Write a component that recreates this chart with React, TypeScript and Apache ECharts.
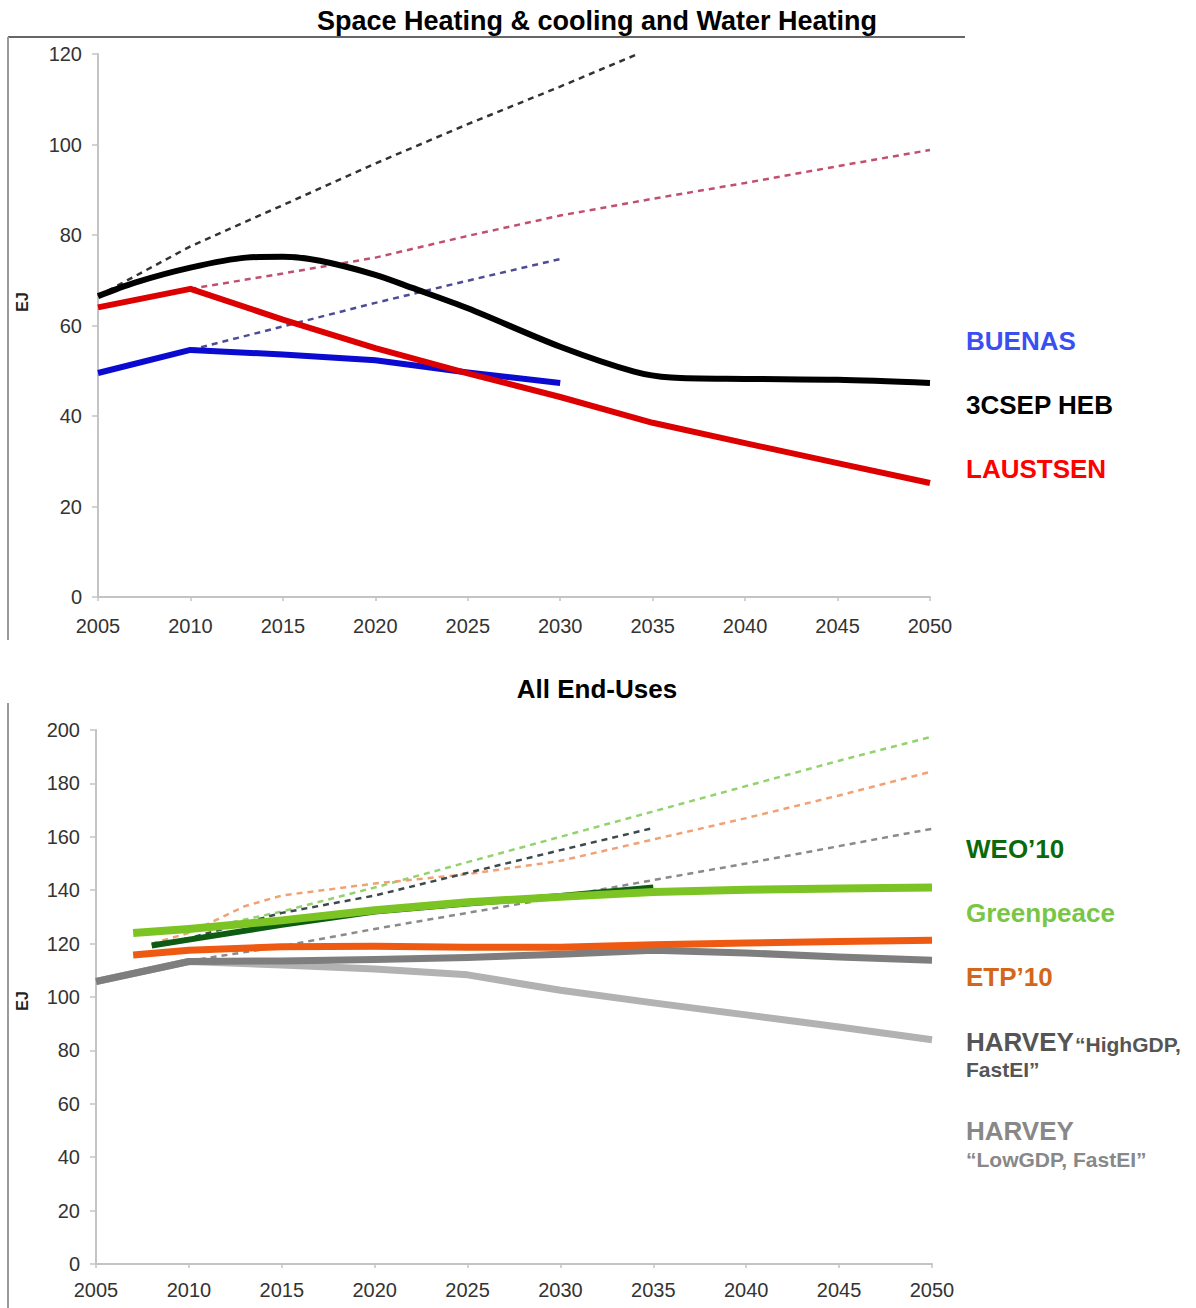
import React, { useEffect, useRef } from "react";
import * as echarts from "echarts";

type P = [number, number][];

// ---------- Top chart: Space Heating & cooling and Water Heating ----------
const topYTicks = { min: 0, max: 120, interval: 20 };
const hebSolid: P = [[2005, 66.5], [2007, 69.5], [2010, 72.8], [2013, 75], [2015, 75.2], [2017, 74.3], [2020, 71.2], [2022, 68.3], [2025, 63.8], [2030, 55.3], [2034, 49.8], [2036, 48.5], [2040, 48.2], [2045, 48], [2050, 47.3]];
const laustsenSolid: P = [[2005, 64], [2010, 68.1], [2015, 61.3], [2020, 55], [2025, 49.4], [2030, 44.2], [2035, 38.5], [2040, 34], [2045, 29.6], [2050, 25.2]];
const buenasSolid: P = [[2005, 49.5], [2010, 54.6], [2015, 53.6], [2020, 52.3], [2025, 49.6], [2030, 47.3]];
const hebDashed: P = [[2005, 66.5], [2010, 77.5], [2015, 86.6], [2020, 95.8], [2025, 104.5], [2030, 112.8], [2034.2, 120]];
const laustsenDashed: P = [[2010, 68.1], [2015, 71.5], [2020, 75], [2025, 79.8], [2030, 84.3], [2035, 88], [2040, 91.5], [2045, 95.2], [2050, 98.8]];
const buenasDashed: P = [[2010, 54.6], [2015, 59.8], [2020, 65], [2025, 69.9], [2030, 74.7]];

// ---------- Bottom chart: All End-Uses ----------
const bottomYTicks = { min: 0, max: 200, interval: 20 };
const greenpeaceSolid: P = [[2007, 124], [2010, 125.5], [2015, 128.7], [2020, 132.5], [2025, 135.5], [2030, 137.5], [2035, 139.3], [2040, 140.2], [2045, 140.6], [2050, 141]];
const weoSolid: P = [[2008, 119.3], [2010, 121.5], [2015, 127], [2020, 132], [2025, 135], [2030, 137.8], [2035, 141]];
const etpSolid: P = [[2007, 115.7], [2010, 117.5], [2015, 118.8], [2020, 119], [2025, 118.6], [2030, 118.6], [2035, 119.6], [2040, 120.2], [2045, 120.8], [2050, 121.3]];
const harveyHighSolid: P = [[2005, 105.8], [2010, 113.3], [2015, 113.5], [2020, 114], [2025, 114.8], [2030, 116], [2035, 117.5], [2040, 116.5], [2045, 115], [2050, 113.8]];
const harveyLowSolid: P = [[2005, 105.8], [2010, 113.3], [2015, 112], [2020, 110.5], [2025, 108.3], [2030, 102.5], [2035, 97.8], [2040, 93.3], [2045, 88.8], [2050, 84]];
const greenpeaceDashed: P = [[2010, 124.5], [2015, 132], [2020, 141], [2025, 150.5], [2030, 160], [2035, 169.5], [2040, 179], [2045, 188.5], [2050, 197.5]];
const etpDashed: P = [[2008, 120], [2010, 124], [2013, 134], [2015, 138], [2020, 142.5], [2025, 146], [2030, 151], [2035, 159], [2040, 167], [2045, 175.5], [2050, 184.5]];
const weoDashed: P = [[2008, 119.5], [2010, 122], [2015, 131.5], [2020, 138], [2025, 146.5], [2030, 155], [2035, 163.3]];
const harveyDashed: P = [[2010, 113.5], [2015, 119], [2020, 125.5], [2025, 131.5], [2030, 137.5], [2035, 143.8], [2040, 150], [2045, 156.5], [2050, 163]];

const FONT = "'Liberation Sans', Arial, Helvetica, sans-serif";

function solid(name: string, data: P, color: string, width: number, axis: number, smooth: number | boolean = false) {
  return {
    name, type: "line", data, xAxisIndex: axis, yAxisIndex: axis, showSymbol: false, smooth,
    lineStyle: { color, width, type: "solid", cap: "butt", join: "round" }, z: 3,
  };
}
function dashed(name: string, data: P, color: string, axis: number) {
  return {
    name, type: "line", data, xAxisIndex: axis, yAxisIndex: axis, showSymbol: false,
    lineStyle: { color, width: 2.5, type: [6, 5] }, z: 2,
  };
}

function xAxis(gridIndex: number, margin: number) {
  return {
    type: "value", gridIndex, min: 2005, max: 2050, interval: 5,
    axisLine: { show: true, lineStyle: { color: "#c4c4c4", width: 2 } },
    axisTick: { show: true, length: 4, lineStyle: { color: "#c4c4c4", width: 1.5 } },
    axisLabel: { color: "#333", fontSize: 20, fontFamily: FONT, margin, formatter: (v: number) => String(v) },
    splitLine: { show: false },
  };
}
function yAxis(gridIndex: number, t: { min: number; max: number; interval: number }) {
  return {
    type: "value", gridIndex, min: t.min, max: t.max, interval: t.interval,
    axisLine: { show: true, lineStyle: { color: "#c4c4c4", width: 2 } },
    axisTick: { show: true, length: 6, lineStyle: { color: "#c4c4c4", width: 1.5 } },
    axisLabel: { color: "#333", fontSize: 20, fontFamily: FONT, margin: 16 },
    splitLine: { show: false },
  };
}

function txt(text: string, x: number, y: number, fill: string, size: number, align = "left") {
  return {
    type: "text", x, y,
    style: { text, fill, fontSize: size, fontWeight: "bold", fontFamily: FONT, align, verticalAlign: "middle" },
  };
}

export default function App() {
  const ref = useRef<HTMLDivElement>(null);
  useEffect(() => {
    document.body.style.margin = "0";
    const chart = echarts.init(ref.current!, null, { renderer: "svg" });
    chart.setOption({
      animation: false,
      backgroundColor: "#ffffff",
      grid: [
        { left: 98, top: 54, width: 832, height: 543 },
        { left: 96, top: 730, width: 836, height: 534 },
      ],
      xAxis: [xAxis(0, 19), xAxis(1, 16)],
      yAxis: [yAxis(0, topYTicks), yAxis(1, bottomYTicks)],
      series: [
        dashed("3CSEP HEB baseline", hebDashed, "#333333", 0),
        dashed("LAUSTSEN baseline", laustsenDashed, "#c0506e", 0),
        dashed("BUENAS baseline", buenasDashed, "#4d4d96", 0),
        solid("BUENAS", buenasSolid, "#0a0ad0", 6, 0),
        solid("LAUSTSEN", laustsenSolid, "#dd0000", 6, 0),
        solid("3CSEP HEB", hebSolid, "#000000", 6, 0, 0.3),

        dashed("Greenpeace baseline", greenpeaceDashed, "#92d36e", 1),
        dashed("ETP'10 baseline", etpDashed, "#f0a274", 1),
        dashed("WEO'10 baseline", weoDashed, "#3c4a4c", 1),
        dashed("HARVEY baseline", harveyDashed, "#8a8a8a", 1),
        solid("HARVEY LowGDP", harveyLowSolid, "#b2b2b2", 7, 1),
        solid("HARVEY HighGDP", harveyHighSolid, "#7e7e7e", 7, 1),
        solid("ETP'10", etpSolid, "#ef5a12", 7, 1),
        solid("WEO'10", weoSolid, "#0d5c12", 6, 1),
        solid("Greenpeace", greenpeaceSolid, "#7cc424", 8, 1),
      ],
      graphic: [
        { type: "line", shape: { x1: 8, y1: 37, x2: 965, y2: 37 }, style: { stroke: "#666", lineWidth: 2 } },
        { type: "line", shape: { x1: 8, y1: 37, x2: 8, y2: 640 }, style: { stroke: "#9a9a9a", lineWidth: 2 } },
        { type: "line", shape: { x1: 8, y1: 703, x2: 8, y2: 1308 }, style: { stroke: "#9a9a9a", lineWidth: 2 } },

        txt("Space Heating & cooling and Water Heating", 597, 21, "#000", 27, "center"),
        txt("All End-Uses", 597, 689, "#000", 26, "center"),
        { ...txt("EJ", 22, 302, "#222", 16, "center"), rotation: Math.PI / 2 },
        { ...txt("EJ", 22, 1001, "#222", 16, "center"), rotation: Math.PI / 2 },

        txt("BUENAS", 966, 341, "#3a4ff2", 26),
        txt("3CSEP HEB", 966, 405, "#000000", 26),
        txt("LAUSTSEN", 966, 469, "#ff0000", 26),

        txt("WEO’10", 966, 849, "#0a6a0a", 26),
        txt("Greenpeace", 966, 913, "#79c545", 26),
        txt("ETP’10", 966, 977, "#d4661a", 26),
        txt("HARVEY", 966, 1042, "#555555", 26),
        txt("“HighGDP,", 1075, 1044, "#555555", 21),
        txt("FastEI”", 966, 1069, "#555555", 21),
        txt("HARVEY", 966, 1131, "#888888", 26),
        txt("“LowGDP, FastEI”", 966, 1159, "#888888", 21),
      ],
    });
    return () => chart.dispose();
  }, []);
  return <div ref={ref} style={{ position: "absolute", left: 0, top: 0, width: 1196, height: 1308 }} />;
}
